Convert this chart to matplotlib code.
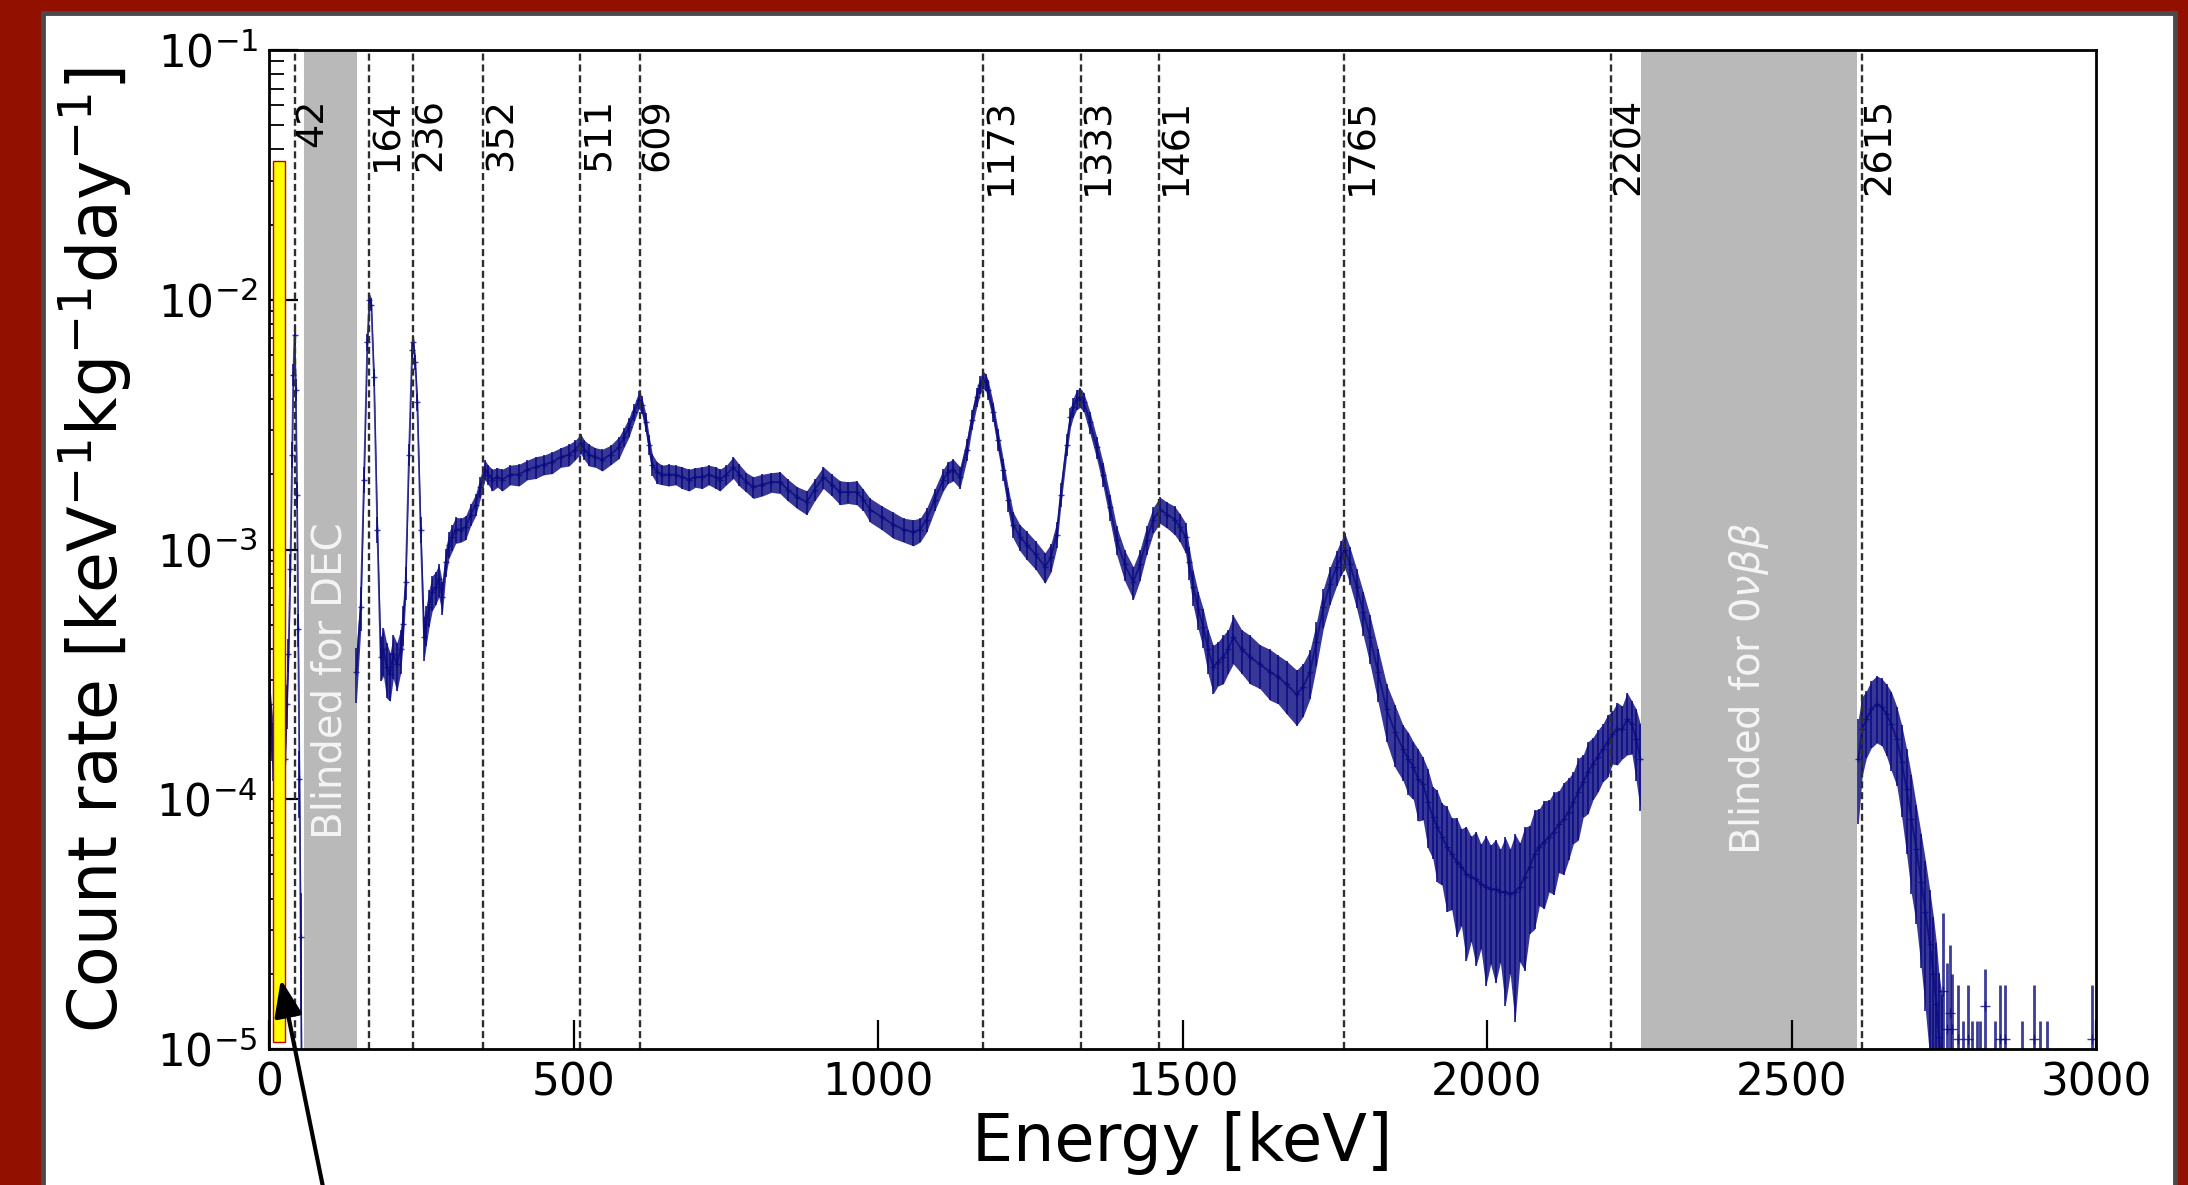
import numpy as np
import matplotlib
matplotlib.use('Agg')
import matplotlib.pyplot as plt
from matplotlib import transforms
from matplotlib.patches import Rectangle

# gamma lines marked in the spectrum [keV]
line_energies = [42, 164, 236, 352, 511, 609, 1173, 1333, 1461, 1765, 2204, 2615]

# blinded analysis windows [keV]
dec_window = (57, 145)
obb_window = (2253, 2607)

# low-energy threshold bin (highlighted)
thr_edges_kev = (7, 26)
thr_rate = (1.07e-5, 3.6e-2)

# spectrum: energy [keV], log10 count rate [1/(keV kg day)], relative error
spec_energy = [
    1, 4, 7, 10, 15, 20, 26, 29, 32, 35, 38, 40, 42, 44, 46, 48, 50, 52, 54,
    143.4, 150.5, 156, 161.5, 165, 168, 172.4, 177.9, 183.3, 188, 193, 199, 204, 210, 216, 220,
    224.4, 229.9, 235, 237, 240, 243.5, 249, 254.5, 258, 262.7, 268, 273.7, 279, 284.6, 290,
    295.5, 301, 306.5, 315, 322.9, 331, 339.3, 347, 354.7, 360, 366.7, 375, 383.1, 396, 410.5,
    424, 437.8, 451, 465.2, 479, 492.6, 503, 511.7, 518, 525.4, 536, 547.3, 561, 574.7, 583,
    591, 600, 607.5, 612, 618.4, 624, 629.4, 637, 645.8, 656, 667.7, 678, 689.6, 700, 711.5,
    722, 733.4, 740.5, 751, 762.4, 772, 784, 795.2, 810, 825, 839, 852, 867, 882.8, 896,
    910.2, 924, 937.5, 951, 964.9, 976, 986.8, 1006, 1025.1, 1042, 1058, 1069, 1079.8, 1093,
    1107.2, 1115, 1123.6, 1134.6, 1145.5, 1154, 1162, 1168, 1172.9, 1177, 1181, 1189.3, 1197,
    1205.7, 1214, 1222.1, 1233, 1244, 1259, 1274.1, 1284, 1293.3, 1300, 1309.7, 1316, 1320.6,
    1326, 1331.6, 1338, 1348, 1359, 1369.9, 1381, 1391.8, 1405, 1419.2, 1430, 1441, 1452,
    1463, 1475, 1487, 1495.8, 1505, 1511, 1517.7, 1526, 1534.1, 1542, 1550.5, 1558, 1567,
    1575, 1583.4, 1597, 1610.8, 1627, 1643.6, 1657, 1671, 1687.4, 1698, 1709.3, 1720, 1731.2,
    1742, 1753.1, 1760, 1766.7, 1775, 1785.9, 1797, 1807.8, 1821, 1835.1, 1849,
    1862, 1871, 1879, 1887, 1895, 1903, 1911, 1918, 1926, 1934, 1942, 1950, 1958, 1966, 1974,
    1982, 1990, 1998, 2006, 2014, 2022, 2030, 2038, 2046, 2054, 2062, 2070, 2078, 2086, 2094,
    2102, 2110, 2118, 2126, 2134, 2142, 2150, 2158, 2166, 2174, 2182, 2190, 2198, 2206, 2214,
    2222, 2230, 2238, 2245, 2252,
    2609.6, 2616, 2623, 2631, 2640, 2648, 2656, 2664, 2673, 2681, 2689, 2697, 2705, 2713,
    2720, 2727, 2733, 2738, 2742, 2747,
]
spec_log_rate = [
    -3.62, -3.72, -3.80, -3.84, -3.86, -3.86, -3.84, -3.62, -3.42, -3.08, -2.62, -2.30, -2.14,
    -2.36, -2.78, -3.32, -3.92, -4.55, -5.30,
    -3.49, -3.23, -2.72, -2.17, -2.00, -2.02, -2.31, -2.92, -3.43, -3.40, -3.47, -3.50, -3.42,
    -3.46, -3.40, -3.30, -3.13, -2.62, -2.20, -2.17, -2.25, -2.41, -2.92, -3.35, -3.30, -3.23,
    -3.17, -3.15, -3.12, -3.19, -3.05, -2.98, -2.95, -2.92, -2.92, -2.91, -2.86, -2.82, -2.75,
    -2.68, -2.70, -2.72, -2.71, -2.72, -2.70, -2.70, -2.68, -2.67, -2.66, -2.65, -2.63, -2.62,
    -2.60, -2.575, -2.60, -2.62, -2.63, -2.64, -2.62, -2.59, -2.55, -2.51, -2.45, -2.40, -2.42,
    -2.49, -2.58, -2.66, -2.69, -2.70, -2.70, -2.70, -2.71, -2.72, -2.71, -2.71, -2.70, -2.71,
    -2.72, -2.70, -2.67, -2.70, -2.73, -2.75, -2.74, -2.73, -2.73, -2.76, -2.79, -2.81, -2.76,
    -2.71, -2.74, -2.77, -2.77, -2.77, -2.80, -2.84, -2.87, -2.90, -2.92, -2.93, -2.92, -2.88,
    -2.80, -2.72, -2.69, -2.68, -2.71, -2.60, -2.48, -2.39, -2.34, -2.32, -2.33, -2.36, -2.45,
    -2.56, -2.68, -2.80, -2.90, -2.95, -2.98, -3.02, -3.07, -3.03, -2.94, -2.78, -2.58, -2.47,
    -2.43, -2.40, -2.39, -2.41, -2.49, -2.59, -2.70, -2.83, -2.96, -3.06, -3.13, -3.06, -2.96,
    -2.88, -2.84, -2.86, -2.88, -2.91, -2.95, -3.05, -3.15, -3.24, -3.31, -3.40, -3.47, -3.45,
    -3.43, -3.40, -3.35, -3.40, -3.43, -3.46, -3.49, -3.51, -3.54, -3.58, -3.55, -3.49, -3.37,
    -3.23, -3.14, -3.07, -3.03, -3.00, -3.06, -3.15, -3.25, -3.35, -3.49, -3.64, -3.73,
    -3.80, -3.84, -3.87, -3.92, -3.94, -4.01, -4.07, -4.11, -4.15, -4.19, -4.22, -4.25, -4.27,
    -4.30, -4.31, -4.32, -4.34, -4.35, -4.36, -4.36, -4.37, -4.37, -4.38, -4.37, -4.35, -4.31,
    -4.27, -4.22, -4.19, -4.17, -4.15, -4.13, -4.10, -4.08, -4.05, -4.01, -3.97, -3.93, -3.89,
    -3.86, -3.83, -3.80, -3.77, -3.74, -3.72, -3.72, -3.68, -3.70, -3.76, -3.84,
    -3.84, -3.72, -3.68, -3.64, -3.62, -3.63, -3.66, -3.70, -3.76, -3.85, -3.96, -4.08, -4.20,
    -4.33, -4.45, -4.58, -4.70, -4.82, -4.95, -5.05,
]
spec_rel_err = [
    0.25, 0.25, 0.25, 0.25, 0.2, 0.2, 0.25, 0.2, 0.15, 0.15, 0.12, 0.1, 0.1, 0.1, 0.12, 0.15,
    0.3, 0.5, 0.6,
    0.25, 0.2, 0.12, 0.08, 0.06, 0.06, 0.08, 0.12, 0.2, 0.22, 0.25, 0.22, 0.2, 0.22, 0.2, 0.18,
    0.15, 0.1, 0.07, 0.07, 0.07, 0.08, 0.12, 0.2, 0.18, 0.17, 0.16, 0.15, 0.15, 0.15, 0.13,
    0.12, 0.12, 0.12, 0.11, 0.11, 0.1, 0.1, 0.1, 0.09, 0.09, 0.1, 0.09, 0.1, 0.09, 0.1,
    0.09, 0.1, 0.09, 0.1, 0.09, 0.1, 0.09, 0.09, 0.09, 0.1, 0.09, 0.1, 0.09, 0.1, 0.09,
    0.09, 0.08, 0.08, 0.08, 0.09, 0.09, 0.1, 0.1, 0.09, 0.1, 0.09, 0.1, 0.1, 0.09, 0.1,
    0.09, 0.1, 0.1, 0.09, 0.1, 0.1, 0.09, 0.1, 0.1, 0.09, 0.1, 0.1, 0.1, 0.11, 0.1,
    0.1, 0.1, 0.11, 0.1, 0.11, 0.1, 0.11, 0.11, 0.12, 0.11, 0.12, 0.11, 0.11, 0.1,
    0.1, 0.1, 0.1, 0.1, 0.1, 0.09, 0.09, 0.08, 0.08, 0.08, 0.09, 0.09, 0.1,
    0.1, 0.11, 0.12, 0.12, 0.13, 0.13, 0.14, 0.13, 0.12, 0.11, 0.1, 0.09, 0.09,
    0.09, 0.09, 0.09, 0.1, 0.1, 0.11, 0.12, 0.13, 0.14, 0.15, 0.14, 0.13, 0.12,
    0.12, 0.12, 0.13, 0.13, 0.14, 0.15, 0.16, 0.17, 0.18, 0.2, 0.22, 0.2, 0.22,
    0.2, 0.22, 0.2, 0.22, 0.2, 0.23, 0.22, 0.24, 0.25, 0.24, 0.22, 0.2, 0.18,
    0.17, 0.16, 0.16, 0.16, 0.17, 0.18, 0.2, 0.22, 0.24, 0.26, 0.28,
    0.25, 0.28, 0.26, 0.32, 0.28, 0.35, 0.32, 0.4, 0.36, 0.45, 0.4, 0.5, 0.42, 0.55, 0.45,
    0.55, 0.45, 0.6, 0.5, 0.58, 0.48, 0.65, 0.52, 0.7, 0.5, 0.58, 0.46, 0.5, 0.42, 0.46,
    0.4, 0.44, 0.36, 0.4, 0.36, 0.32, 0.36, 0.28, 0.32, 0.28, 0.28, 0.26, 0.28, 0.24, 0.28,
    0.24, 0.28, 0.24, 0.32, 0.38,
    0.45, 0.35, 0.3, 0.3, 0.3, 0.3, 0.32, 0.35, 0.35, 0.4, 0.45, 0.5, 0.5, 0.55,
    0.6, 0.65, 0.7, 0.75, 0.8, 0.85,
]

# sparse single-count bins above the 208Tl line
tail_energy = [2749, 2756, 2760, 2763, 2774, 2782, 2790, 2796, 2804, 2810, 2817, 2834,
               2842, 2851, 2878, 2898, 2908, 2919, 2994]
tail_rate = [1.7e-5, 1.2e-5, 1.4e-5, 1.2e-5, 1.1e-5, 0.8e-5, 1.1e-5, 0.8e-5, 0.8e-5,
             0.8e-5, 1.48e-5, 0.8e-5, 1.1e-5, 1.1e-5, 0.8e-5, 1.1e-5, 0.8e-5, 0.8e-5, 1.1e-5]
tail_upper = [3.5e-5, 2.2e-5, 2.6e-5, 2.0e-5, 1.8e-5, 1.3e-5, 1.8e-5, 1.3e-5, 1.3e-5,
              1.3e-5, 2.1e-5, 1.3e-5, 1.8e-5, 1.8e-5, 1.3e-5, 1.8e-5, 1.3e-5,
              1.3e-5, 1.8e-5]

navy = '#0b0b80'

fig = plt.figure(figsize=(21.88, 11.85), dpi=100, facecolor='#921000')
panel = Rectangle((42.5 / 2188, -0.1), (2174.5 - 42.5) / 2188, 1.1 - 13 / 1185,
                  transform=fig.transFigure, facecolor='white', edgecolor='#4a4a4a',
                  linewidth=3.5, zorder=-1)
fig.add_artist(panel)

ax = fig.add_axes([269 / 2188, 1 - 1049 / 1185, 1827 / 2188, 999 / 1185])
ax.set_yscale('log')
ax.set_xlim(0, 3000)
ax.set_ylim(1e-5, 1e-1)

# blinded windows
ax.axvspan(*dec_window, color='#b9b9b9', lw=0, zorder=0.5)
ax.axvspan(*obb_window, color='#b9b9b9', lw=0, zorder=0.5)

# spectrum, split at the blinded windows
E = np.array(spec_energy)
R = 10 ** np.array(spec_log_rate)
f = np.array(spec_rel_err)
lo = R * (1 - f)
hi = R * (1 + f)
segments = [E < dec_window[0],
            (E > dec_window[0]) & (E < obb_window[0]),
            E > obb_window[1]]
for m in segments:
    ax.fill_between(E[m], lo[m], hi[m], color=navy, alpha=0.82, lw=0, zorder=2)
    ax.errorbar(E[m], R[m], yerr=[R[m] - lo[m], hi[m] - R[m]], fmt='+-', ms=5,
                lw=1.3, elinewidth=1.4, color=navy, alpha=0.8, zorder=2)

tE = np.array(tail_energy)
tR = np.array(tail_rate)
tU = np.array(tail_upper)
ax.errorbar(tE, tR, yerr=[tR * 0.999, tU - tR], fmt='+', ms=7, elinewidth=2.0,
            color=navy, alpha=0.8, zorder=2)

# gamma line markers and labels
lbl_trans = transforms.blended_transform_factory(ax.transData, ax.transAxes)
for e in line_energies:
    ax.axvline(e, color='0.18', ls=(0, (3.0, 1.6)), lw=1.7, zorder=2.5)
    ax.text(e, 0.952, str(e), transform=lbl_trans, rotation=90, ha='left', va='top',
            fontsize=27.5, zorder=3)

ax.text(np.mean(dec_window), 0.527, 'Blinded for DEC', transform=lbl_trans,
        rotation=90, ha='center', va='top', color='white', alpha=0.85,
        fontsize=29, zorder=3)
ax.text(np.mean(obb_window), 0.527, r'Blinded for $0\nu\beta\beta$', transform=lbl_trans,
        rotation=90, ha='center', va='top', color='white', alpha=0.85,
        fontsize=29, zorder=3)

# threshold bin
ax.bar(thr_edges_kev[0], thr_rate[1] - thr_rate[0], width=thr_edges_kev[1] - thr_edges_kev[0],
       bottom=thr_rate[0], align='edge', color='#ffff00', edgecolor='#c00000',
       linewidth=1.0, zorder=4)

ax.annotate('', xy=(19.5, 1.9e-5), xycoords='data',
            xytext=(325 / 2188, -0.01), textcoords='figure fraction',
            arrowprops=dict(arrowstyle='-|>,head_length=0.45,head_width=0.17',
                            color='black', lw=3, mutation_scale=50,
                            shrinkA=0, shrinkB=0),
            annotation_clip=False, zorder=6)

ax.set_xticks([0, 500, 1000, 1500, 2000, 2500, 3000])
ax.tick_params(axis='both', which='major', direction='in', length=21, width=1.6,
               labelsize=31.5, top=False, right=False)
ax.tick_params(axis='y', which='minor', direction='in', length=11, width=1.3, right=False)
ax.tick_params(axis='x', which='minor', bottom=False, top=False)
ax.tick_params(axis='x', pad=9)
ax.tick_params(axis='y', pad=8)
for s in ax.spines.values():
    s.set_linewidth(2.0)

ax.set_xlabel('Energy [keV]', fontsize=47)
ax.set_ylabel(r'Count rate [keV$^{-1}$kg$^{-1}$day$^{-1}$]', fontsize=48)
ax.xaxis.set_label_coords(0.5, -0.062)
ax.yaxis.set_label_coords(-0.074, 0.5)

fig.savefig('out.png', dpi=100, facecolor=fig.get_facecolor())
